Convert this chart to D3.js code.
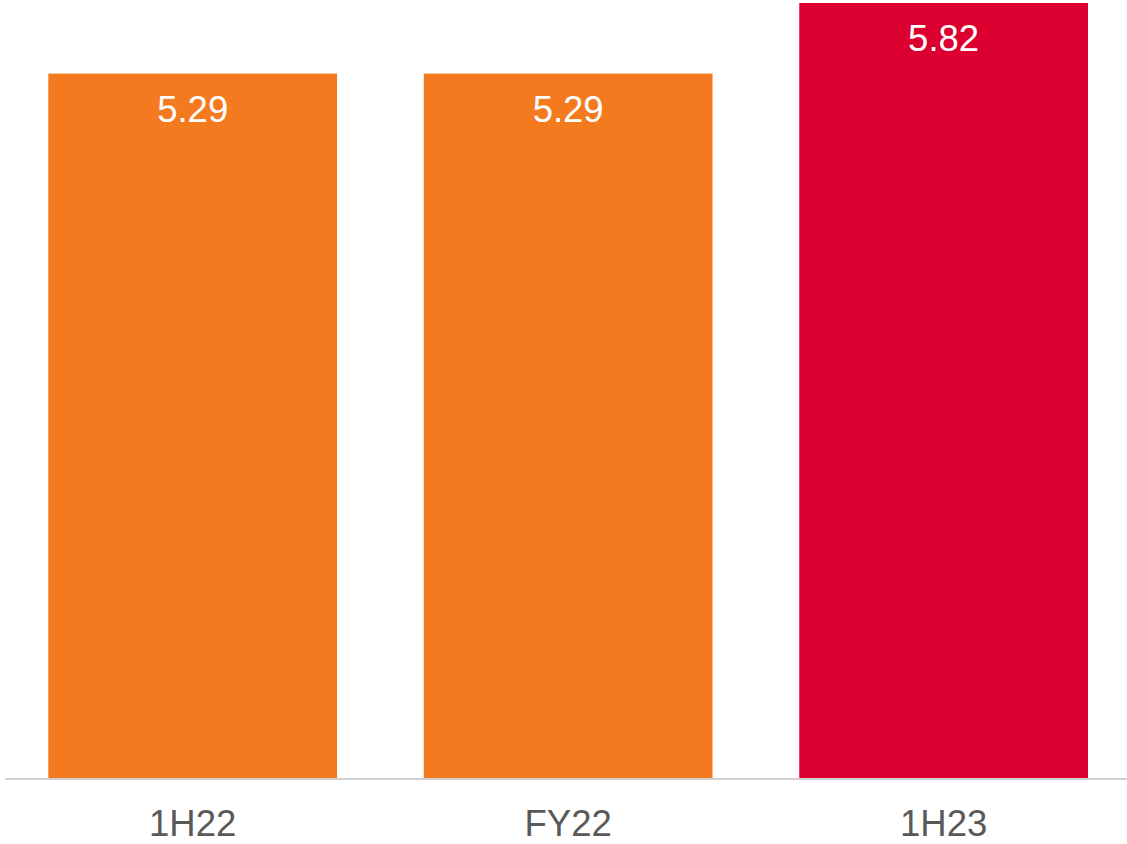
<!DOCTYPE html>
<html>
<head>
<meta charset="utf-8">
<script src="https://cdn.jsdelivr.net/npm/d3@7"></script>
<style>
  body { margin: 0; background: #fff; }
  svg { display: block; font-family: "Liberation Sans", Arial, sans-serif; }
</style>
</head>
<body>
<div id="chart"></div>
<script>
(function(){
    // data
    const categories = ["1H22", "FY22", "1H23"];
    const values = [5.29, 5.29, 5.82];
    const barColors = ["#F47A20", "#F47A20", "#DC0030"];

    const width = 1127;
    const height = 844;
    const baseY = 778;

    const svg = d3.select("#chart")
        .append("svg")
        .attr("width", width)
        .attr("height", height);

    const x = d3.scaleBand()
        .domain(categories)
        .range([48.3, 1088])
        .paddingInner(0.231)
        .paddingOuter(0);

    const y = d3.scaleLinear()
        .domain([0, 5.82])
        .range([baseY, 3]);

    // bars
    svg.selectAll(".bar")
        .data(values)
        .enter().append("rect")
        .attr("class", "bar")
        .attr("x", (d, i) => x(categories[i]))
        .attr("y", d => y(d))
        .attr("width", x.bandwidth())
        .attr("height", d => baseY - y(d))
        .style("fill", (d, i) => barColors[i]);

    // value labels inside bars
    svg.selectAll(".valLabel")
        .data(values)
        .enter().append("text")
        .attr("class", "valLabel")
        .attr("x", (d, i) => x(categories[i]) + x.bandwidth() / 2)
        .attr("y", d => y(d) + 48)
        .attr("text-anchor", "middle")
        .style("font-size", "36.5px")
        .style("fill", "#fff")
        .text(d => d.toFixed(2));

    // baseline
    svg.append("line")
        .attr("x1", 5)
        .attr("x2", width)
        .attr("y1", baseY + 1)
        .attr("y2", baseY + 1)
        .style("stroke", "#CFCFCF")
        .style("stroke-width", 2);

    // category labels
    svg.selectAll(".catLabel")
        .data(categories)
        .enter().append("text")
        .attr("class", "catLabel")
        .attr("x", d => x(d) + x.bandwidth() / 2)
        .attr("y", 836)
        .attr("text-anchor", "middle")
        .style("font-size", "36.5px")
        .style("fill", "#595959")
        .text(d => d);
})();
</script>
</body>
</html>
